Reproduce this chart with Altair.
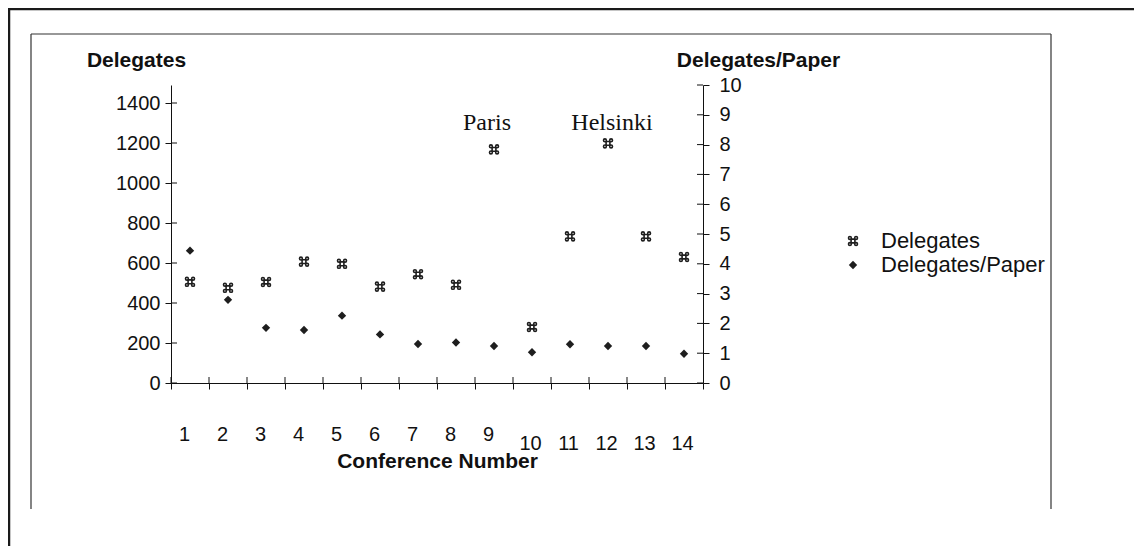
import altair as alt
import pandas as pd

# ---------------- data ----------------
conference = list(range(1, 15))
delegates = [506, 476, 505, 607, 596, 482, 544, 491, 1168, 280, 733, 1198, 733, 630]
delegates_per_paper = [4.44, 2.79, 1.85, 1.78, 2.26, 1.63, 1.31, 1.36, 1.24, 1.03, 1.30, 1.24, 1.24, 0.98]
left_ticks = [0, 200, 400, 600, 800, 1000, 1200, 1400]
right_ticks = [0, 1, 2, 3, 4, 5, 6, 7, 8, 9, 10]
series_names = ["Delegates", "Delegates/Paper"]
annotation_conf = [9, 12]
annotation_text = ["Paris", "Helsinki"]
annotation_level = [1300, 1300]
left_max = 1490
right_max = 10

# ---------------- layout / style ----------------
W, H = 532, 298
FONT = "Liberation Sans"
INK = "#111111"

# "place of interest" style marker (square with looped corners) as a custom symbol
LOOP = 0.3
def loop(cx, cy, r=LOOP):
    return (f"M{cx - r},{cy}A{r},{r} 0 1,0 {cx + r},{cy}A{r},{r} 0 1,0 {cx - r},{cy}Z")
MARK_PATH = ("M-0.4,-0.4L0.4,-0.4L0.4,0.4L-0.4,0.4Z"
             + loop(-0.65, -0.65) + loop(0.65, -0.65) + loop(0.65, 0.65) + loop(-0.65, 0.65))
MARK_STYLE = dict(shape=MARK_PATH, filled=False, size=90, strokeWidth=1.6, color="#1e1e1e", opacity=1)

df = pd.DataFrame({"conf": conference, "delegates": delegates, "dpp": delegates_per_paper})
one = pd.DataFrame({"k": [0]})

x_scale = alt.Scale(type="band", domain=conference, paddingInner=0, paddingOuter=0)
left_scale = alt.Scale(domain=[0, left_max], nice=False, zero=True)
right_scale = alt.Scale(domain=[0, right_max], nice=False, zero=True)

x_axis = alt.Axis(
    orient="bottom", tickBand="extent", labelAngle=0, labelFont=FONT, labelFontSize=20,
    labelColor=INK, labelBaseline="middle", labelAlign="center",
    labelPadding={"condition": {"test": "datum.value >= 10", "value": 54}, "value": 45},
    labelOffset={"condition": {"test": "datum.value >= 10", "value": -2}, "value": -6},
    domainColor=INK, tickColor=INK, tickSize=6, grid=False,
    title="Conference Number", titleFont=FONT, titleFontSize=21, titleFontWeight="bold",
    titleColor=INK, titleY=78, titleBaseline="middle",
)
left_axis = alt.Axis(
    orient="left", values=left_ticks, format="d", labelFont=FONT, labelFontSize=20, labelColor=INK,
    labelPadding=5, domainColor=INK, tickColor=INK, tickSize=6, grid=False,
    title="Delegates", titleFont=FONT, titleFontSize=21, titleFontWeight="bold", titleColor=INK,
    titleAngle=0, titleX=-35, titleY=-25, titleAlign="center", titleBaseline="middle",
)
right_axis = alt.Axis(
    orient="right", values=right_ticks, format="d", labelFont=FONT, labelFontSize=20, labelColor=INK,
    labelPadding=10, domainColor=INK, tickColor=INK, tickSize=6, grid=False,
    title="Delegates/Paper", titleFont=FONT, titleFontSize=21, titleFontWeight="bold",
    titleColor=INK, titleAngle=0, titleX=55, titleY=-25, titleAlign="center",
    titleBaseline="middle",
)

def xenc(**kw):
    return alt.X("conf:O", scale=x_scale, axis=x_axis, **kw)

# ---------------- left (Delegates) layer ----------------
deleg_pts = alt.Chart(df).mark_point(**MARK_STYLE).encode(
    x=xenc(),
    y=alt.Y("delegates:Q", scale=left_scale, axis=left_axis),
)

left_in_ticks = alt.Chart(pd.DataFrame({"delegates": left_ticks})).mark_rule(color=INK).encode(
    y=alt.Y("delegates:Q", scale=left_scale, axis=left_axis), x=alt.value(0), x2=alt.value(6)
)
x_in_ticks = alt.Chart(df).mark_rule(color=INK).encode(
    x=xenc(bandPosition=0),
    y=alt.value(H), y2=alt.value(H - 6),
)

annots = []
for c, t, lv, dx in zip(annotation_conf, annotation_text, annotation_level, [-7, 4]):
    annots.append(
        alt.Chart(pd.DataFrame({"conf": [c], "label": [t], "delegates": [lv]})).mark_text(
            font="Liberation Serif", fontSize=24, color=INK, baseline="middle", align="center", dx=dx
        ).encode(
            x=xenc(),
            y=alt.Y("delegates:Q", scale=left_scale, axis=left_axis),
            text="label:N",
        )
    )

def rule(x1, y1, x2, y2, color="#333333", sw=1.0):
    return alt.Chart(one).mark_rule(color=color, strokeWidth=sw).encode(
        x=alt.value(x1), y=alt.value(y1), x2=alt.value(x2), y2=alt.value(y2)
    )

frames = [
    rule(-162, -76, -162, 470, "#1a1a1a", 2.5),   # outer left
    rule(-163, -76, 980, -76, "#1a1a1a", 2.5),    # outer top
    rule(-140, -51, -140, 424, "#333333", 1.2),   # inner left
    rule(-140, -51, 880, -51, "#333333", 1.2),    # inner top
    rule(880, -51, 880, 424, "#333333", 1.2),     # inner right
]

LEG_X, LEG_Y1, LEG_Y2, LEG_TX = 682, 156, 180, 710
legend = [
    alt.Chart(one).mark_point(**MARK_STYLE).encode(x=alt.value(LEG_X), y=alt.value(LEG_Y1)),
    alt.Chart(one).mark_point(shape="diamond", filled=True, size=70, color="#1e1e1e", opacity=1).encode(
        x=alt.value(LEG_X), y=alt.value(LEG_Y2)),
    alt.Chart(one).mark_text(font=FONT, fontSize=22, color=INK, align="left", baseline="middle").encode(
        x=alt.value(LEG_TX), y=alt.value(LEG_Y1), text=alt.value(series_names[0])),
    alt.Chart(one).mark_text(font=FONT, fontSize=22, color=INK, align="left", baseline="middle").encode(
        x=alt.value(LEG_TX), y=alt.value(LEG_Y2), text=alt.value(series_names[1])),
]

left_layer = alt.layer(deleg_pts, left_in_ticks, x_in_ticks, *annots, *frames, *legend)

# ---------------- right (Delegates/Paper) layer ----------------
dpp_pts = alt.Chart(df).mark_point(shape="diamond", filled=True, size=70, color="#1e1e1e", opacity=1).encode(
    x=xenc(),
    y=alt.Y("dpp:Q", scale=right_scale, axis=right_axis),
)
right_in_ticks = alt.Chart(pd.DataFrame({"dpp": right_ticks})).mark_rule(color=INK).encode(
    y=alt.Y("dpp:Q", scale=right_scale, axis=right_axis), x=alt.value(W), x2=alt.value(W - 6)
)
right_layer = alt.layer(dpp_pts, right_in_ticks)

chart = alt.layer(left_layer, right_layer).resolve_scale(y="independent").properties(
    width=W, height=H,
    autosize=alt.AutoSizeParams(type="none"),
    padding={"left": 163, "top": 77, "right": 431, "bottom": 163},
    background="white",
).configure_view(stroke=None)

chart.save("out.html", embed_options={"renderer": "svg", "actions": False})
